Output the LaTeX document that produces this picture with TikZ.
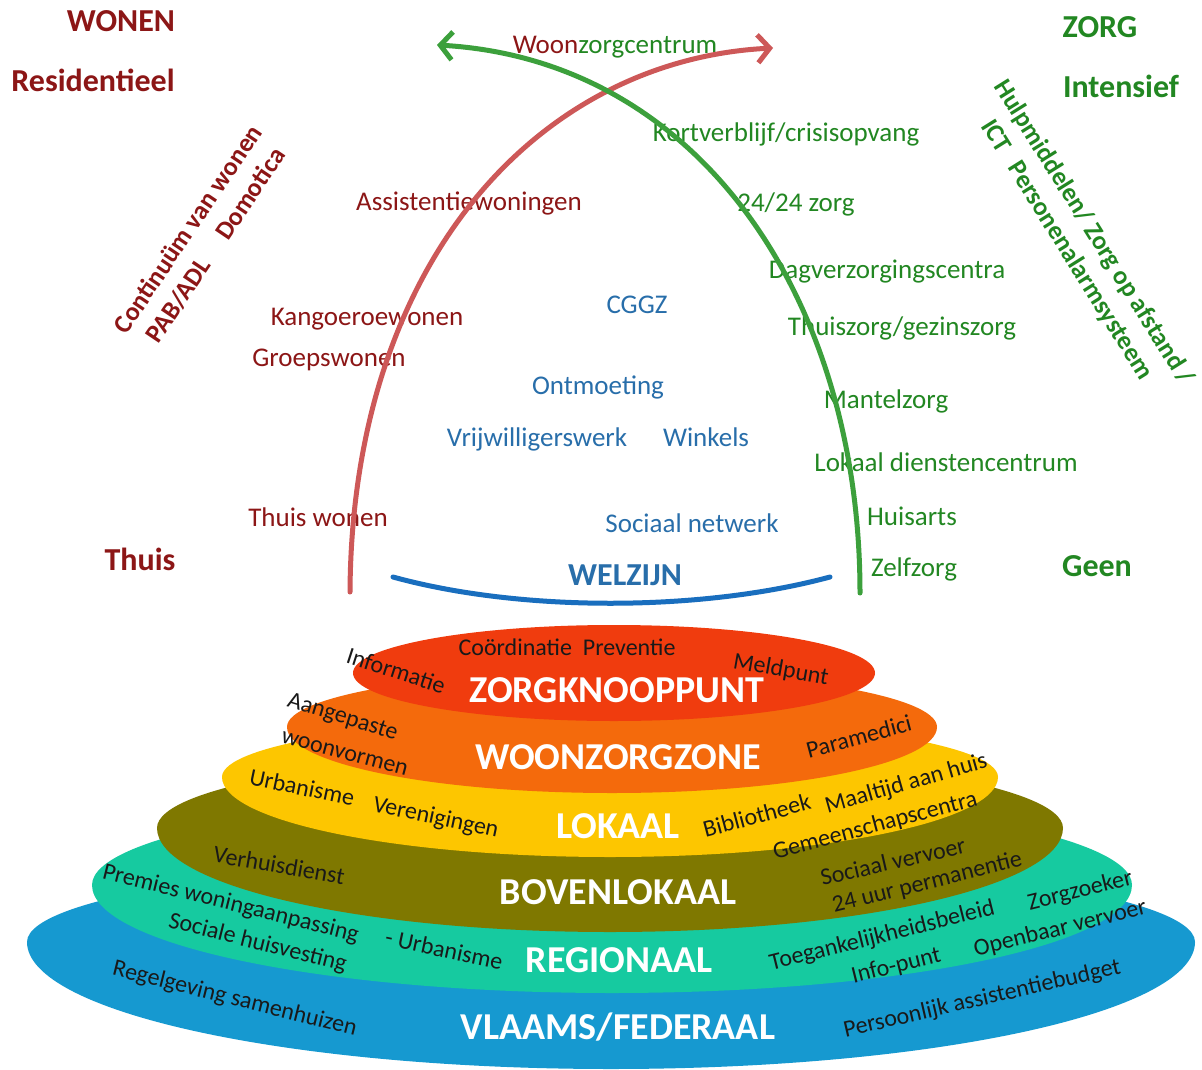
\documentclass[tikz,border=0pt]{standalone}
\usepackage{fontspec}
\setmainfont{Carlito}
\usetikzlibrary{arrows.meta}
\definecolor{wred}{RGB}{140,22,22}
\definecolor{zgreen}{RGB}{34,135,34}
\definecolor{wblue}{RGB}{40,110,170}
\definecolor{arcred}{RGB}{205,88,88}
\definecolor{arcgreen}{RGB}{60,160,60}
\definecolor{arcblue}{RGB}{25,110,190}
\definecolor{lred}{RGB}{240,60,14}
\definecolor{lorange}{RGB}{244,106,12}
\definecolor{lyellow}{RGB}{253,198,0}
\definecolor{lolive}{RGB}{127,120,0}
\definecolor{lteal}{RGB}{22,202,160}
\definecolor{lblue}{RGB}{22,153,208}
\definecolor{ltext}{RGB}{25,25,25}
\newcommand{\myfs}[1]{\fontsize{#1}{#1}\selectfont}
\newcommand{\layer}[6]{%
  \fill[#1] ({#2-#4},#3) arc[start angle=180,end angle=360,x radius=#4,y radius=#5]
    arc[start angle=0,end angle=180,x radius=#4,y radius=#6] -- cycle;}
\tikzset{
  head/.style={font=\myfs{32}\bfseries, inner sep=0pt, text height=20pt, text depth=0pt},
  wtxt/.style={text=wred, font=\myfs{27}, inner sep=0pt, text height=17pt, text depth=0pt},
  ztxt/.style={text=zgreen, font=\myfs{27}, inner sep=0pt, text height=17pt, text depth=0pt},
  btxt/.style={text=wblue, font=\myfs{27}, inner sep=0pt, text height=17pt, text depth=0pt},
  lvl/.style={text=white, font=\myfs{38}\bfseries, inner sep=0pt, text height=24pt, text depth=0pt},
  sm/.style={text=ltext, font=\myfs{24}, inner sep=0pt, text height=15pt, text depth=0pt},
  side/.style={font=\fontsize{26}{32}\selectfont\bfseries, inner sep=0pt, align=left},
  arcline/.style={line width=5pt, line cap=round},
  tip/.style={-{Straight Barb[length=12pt,width=28pt]}}
}
\begin{document}
\begin{tikzpicture}[x=1pt,y=-1pt]
\useasboundingbox[fill=white] (0,0) rectangle (1202,1070);

% ---- stacked layers ----
\layer{lblue}{611}{942}{584}{85}{127}
\layer{lteal}{612}{885}{520}{92}{108}
\layer{lolive}{610}{828}{453}{76}{104}
\layer{lyellow}{610}{777}{388}{60}{80}
\layer{lorange}{612}{727}{325}{56}{66}
\layer{lred}{614}{673}{261}{48}{48}

% level labels
\node[lvl] (l1) at (617,690) {ZORGKNOOPPUNT};
\node[lvl] (l2) at (618,757) {WOONZORGZONE};
\node[lvl] (l3) at (618,826) {LOKAAL};
\node[lvl] (l4) at (618,892) {BOVENLOKAAL};
\node[lvl] (l5) at (619,960) {REGIONAAL};
\node[lvl] (l6) at (618,1027) {VLAAMS/FEDERAAL};

% small labels
\node[sm] (s1) at (567,648) {Coördinatie\ \ Preventie};
\node[sm, rotate=-18] (s2) at (396,671) {Informatie};
\node[sm, rotate=-10] (s3) at (781,669) {Meldpunt};
\node[sm, rotate=-17] (s4) at (343,716) {Aangepaste};
\node[sm, rotate=-15] (s5) at (345,752) {woonvormen};
\node[sm, rotate=15] (s6) at (859,737) {Paramedici};
\node[sm, rotate=-12] (s7) at (302,788) {Urbanisme};
\node[sm, rotate=-12] (s8) at (436,817) {Verenigingen};
\node[sm, rotate=15] (s9) at (757,816) {Bibliotheek};
\node[sm, rotate=16] (s10) at (906,783) {Maaltijd aan huis};
\node[sm, rotate=15] (s11) at (875,825) {Gemeenschapscentra};
\node[sm, rotate=-10] (s12) at (279,866) {Verhuisdienst};
\node[sm, rotate=13] (s13) at (893,862) {Sociaal vervoer};
\node[sm, rotate=14] (s14) at (927,882) {24 uur permanentie};
\node[sm, rotate=-14] (s15) at (231,903) {Premies woningaanpassing};
\node[sm, rotate=-14] (s16) at (258,942) {Sociale huisvesting};
\node[sm, rotate=-12] (s17) at (444,950) {- Urbanisme};
\node[sm, rotate=14] (s18) at (882,935) {Toegankelijkheidsbeleid};
\node[sm, rotate=14] (s19) at (1080,890) {Zorgzoeker};
\node[sm, rotate=14] (s20) at (896,965) {Info-punt};
\node[sm, rotate=14] (s21) at (1060,928) {Openbaar vervoer};
\node[sm, rotate=-14] (s22) at (235,998) {Regelgeving samenhuizen};
\node[sm, rotate=13] (s23) at (982,998) {Persoonlijk assistentiebudget};

% ---- headings ----
\node[head, text=wred] (wonen) at (121,22) {WONEN};
\node[head, text=wred] (resid) at (93,82) {Residentieel};
\node[head, text=wred] (thuis) at (140,560) {Thuis};
\node[head, text=zgreen] (zorg) at (1100,28) {ZORG};
\node[head, text=zgreen] (intens) at (1121,88) {Intensief};
\node[head, text=zgreen] (geen) at (1097,566) {Geen};

% rotated side texts
\node[side, text=wred, rotate=56] (cont) at (201,238)
  {Continuüm van wonen\\\hspace*{10pt}PAB/ADL\hspace{1.1em}Domotica};
\node[side, text=zgreen, rotate=-58] (hulp) at (1080,241)
  {Hulpmiddelen/ Zorg op afstand /\\\hspace*{27pt}ICT\hspace{0.6em}Personenalarmsysteem};

% wonen column
\node[wtxt] (wzc) at (615,45) {Woon\textcolor{zgreen}{zorgcentrum}};
\node[wtxt] (assist) at (469,202) {Assistentiewoningen};
\node[wtxt] (kang) at (367,317) {Kangoeroewonen};
\node[wtxt] (groep) at (329,358) {Groepswonen};
\node[wtxt] (thuisw) at (318,518) {Thuis wonen};

% zorg column
\node[ztxt] (kort) at (786,133) {Kortverblijf/crisisopvang};
\node[ztxt] (z24) at (796,203) {24/24 zorg};
\node[ztxt] (dag) at (887,270) {Dagverzorgingscentra};
\node[ztxt] (thz) at (902,327) {Thuiszorg/gezinszorg};
\node[ztxt] (mant) at (886,400) {Mantelzorg};
\node[ztxt] (ldc) at (946,463) {Lokaal dienstencentrum};
\node[ztxt] (huis) at (912,517) {Huisarts};
\node[ztxt] (zelf) at (914,568) {Zelfzorg};

% welzijn
\node[btxt] (cggz) at (637,305) {CGGZ};
\node[btxt] (ontm) at (598,386) {Ontmoeting};
\node[btxt] (vrij) at (537,438) {Vrijwilligerswerk};
\node[btxt] (wink) at (706,438) {Winkels};
\node[btxt] (socn) at (692,524) {Sociaal netwerk};
\node[btxt, font=\myfs{32}\bfseries, text height=20pt] (welz) at (625,575) {WELZIJN};

% ---- arcs ----
\coordinate (rs) at (350,592);
\coordinate (re) at (773,48);
\coordinate (gs) at (860,593);
\coordinate (ge) at (437,45);
\coordinate (bs) at (393,577);
\coordinate (be) at (830,577);
\draw[arcline, arcred, tip] (rs) .. controls (352,260) and (540,60) .. (re);
\draw[arcline, arcgreen, tip] (gs) .. controls (860,300) and (700,60) .. (ge);
\draw[arcline, arcblue] (bs) .. controls (520,612) and (700,612) .. (be);
\end{tikzpicture}
\end{document}
